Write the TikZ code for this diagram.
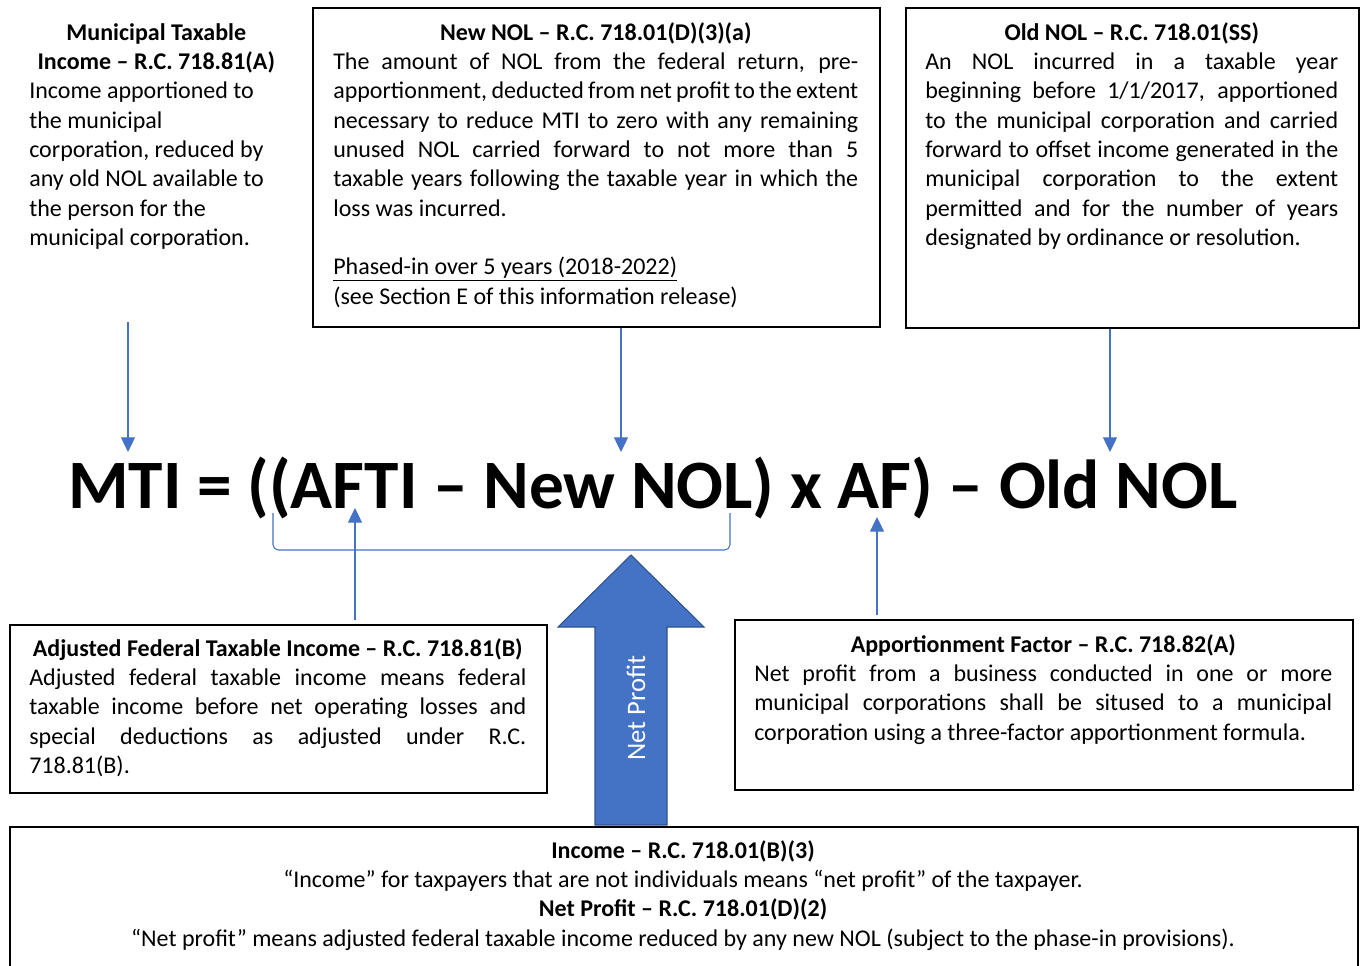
\documentclass[tikz,border=0pt]{standalone}
\usepackage{fontspec}
\setmainfont{Carlito}
\usepackage{tikz}
\usetikzlibrary{positioning,arrows.meta}
\setlength{\parindent}{0pt}
\definecolor{wordblue}{HTML}{4472C4}
\definecolor{wordedge}{HTML}{2F528F}
\tikzset{
  infobox/.style={draw, line width=1.3pt, anchor=north west, inner sep=0pt},
  infotext/.style={anchor=north west, inner sep=0pt, align=justify, font=\fontsize{18}{22}\selectfont},
  pointer/.style={draw=wordblue, line width=0.9pt, -{Triangle[length=11pt, width=10.5pt]}},
  bigarrow/.style={fill=wordblue, draw=wordedge, line width=0.8pt},
}

\begin{document}
\begin{tikzpicture}[x=0.75pt, y=-0.75pt]
  \useasboundingbox (0,0) rectangle (1365,965);

  % the formula
  \node[anchor=base, inner sep=0pt, font=\fontsize{52}{60}\selectfont\bfseries] (mti) at (653,508)
    {MTI = ((AFTI – New NOL) x AF) – Old NOL};

  % boxes above
  \node[infotext, align=flush left, text width=190.5pt] (muni) at (29,19.5)
    {\strut{\centering\bfseries Municipal Taxable\\ Income – R.C. 718.81(A)\par}
     Income apportioned to\\ the municipal\\ corporation, reduced by\\ any old NOL available to\\
     the person for the\\ municipal corporation.};

  \node[infobox, minimum width=425.25pt, minimum height=239.25pt] (newbox) at (312,7) {};
  \node[infotext, text width=393.75pt] (newtxt) at (333,19.5)
    {\strut{\centering\bfseries New NOL – R.C. 718.01(D)(3)(a)\par}
     The amount of NOL from the federal return, pre-\linebreak
     apportionment, deducted from net profit to the extent\linebreak
     necessary to reduce MTI to zero with any remaining\linebreak
     unused NOL carried forward to not more than 5\linebreak
     taxable years following the taxable year in which the\linebreak
     loss was incurred.\par\vspace{22pt}
     {\raggedright\underline{Phased-in over 5 years (2018-2022)}\\
     (see Section E of this information release)\par}};

  \node[infobox, minimum width=339.75pt, minimum height=240pt] (oldbox) at (905,7) {};
  \node[infotext, text width=309.75pt] (oldtxt) at (925,19.5)
    {\strut{\centering\bfseries Old NOL – R.C. 718.01(SS)\par}
     An NOL incurred in a taxable year\linebreak
     beginning before 1/1/2017, apportioned\linebreak
     to the municipal corporation and carried\linebreak
     forward to offset income generated in the\linebreak
     municipal corporation to the extent\linebreak
     permitted and for the number of years\linebreak
     designated by ordinance or resolution.};

  % boxes below
  \node[infobox, minimum width=402.75pt, minimum height=126pt] (aftibox) at (9,624) {};
  \node[infotext, text width=372.75pt] (aftitxt) at (29,635.5)
    {\strut{\centering\bfseries Adjusted Federal Taxable Income – R.C. 718.81(B)\par}
     Adjusted federal taxable income means federal\linebreak
     taxable income before net operating losses and\linebreak
     special deductions as adjusted under R.C.\linebreak
     718.81(B).};

  \node[infobox, minimum width=463.5pt, minimum height=127.5pt] (afbox) at (734,619) {};
  \node[infotext, text width=433.5pt] (aftxt) at (754,631.5)
    {\strut{\centering\bfseries Apportionment Factor – R.C. 718.82(A)\par}
     Net profit from a business conducted in one or more\linebreak
     municipal corporations shall be sitused to a municipal\linebreak
     corporation using a three-factor apportionment formula.};

  \node[infobox, minimum width=1011pt, minimum height=120pt] (incomebox) at (9,826) {};
  \node[infotext, anchor=north, align=flush center, text width=990pt] (incometxt) at (683,837.5)
    {\strut\textbf{Income – R.C. 718.01(B)(3)}\\
     “Income” for taxpayers that are not individuals means “net profit” of the taxpayer.\\
     \textbf{Net Profit – R.C. 718.01(D)(2)}\\
     “Net profit” means adjusted federal taxable income reduced by any new NOL (subject to the phase-in provisions).};

  % net profit arrow
  \draw[bigarrow] (595,825) -- (595,627) -- (558,627) -- (631,555) -- (704,627) -- (667,627) -- (667,825) -- cycle;
  \node[rotate=90, text=white, font=\fontsize{20}{24}\selectfont] (netprofit) at (636,708) {Net Profit};

  % bracket round AFTI - New NOL
  \draw[wordblue, line width=0.8pt, rounded corners=4pt] (273,513) -- (273,550) -- (730,550) -- (730,513);

  % pointers
  \coordinate (munitip) at (128,452);
  \coordinate (muniout) at (128,322);
  \coordinate (newtip) at (621,452);
  \coordinate (oldtip) at (1110,452);
  \coordinate (aftitip) at (355,508);
  \coordinate (aftip) at (877,517);
  \draw[pointer] (muniout) -- (munitip);
  \draw[pointer] (newbox.south -| newtip) -- (newtip);
  \draw[pointer] (oldbox.south -| oldtip) -- (oldtip);
  \draw[pointer] ([yshift=3pt]aftibox.north -| aftitip) -- (aftitip);
  \draw[pointer] ([yshift=3pt]afbox.north -| aftip) -- (aftip);
\end{tikzpicture}
\end{document}
